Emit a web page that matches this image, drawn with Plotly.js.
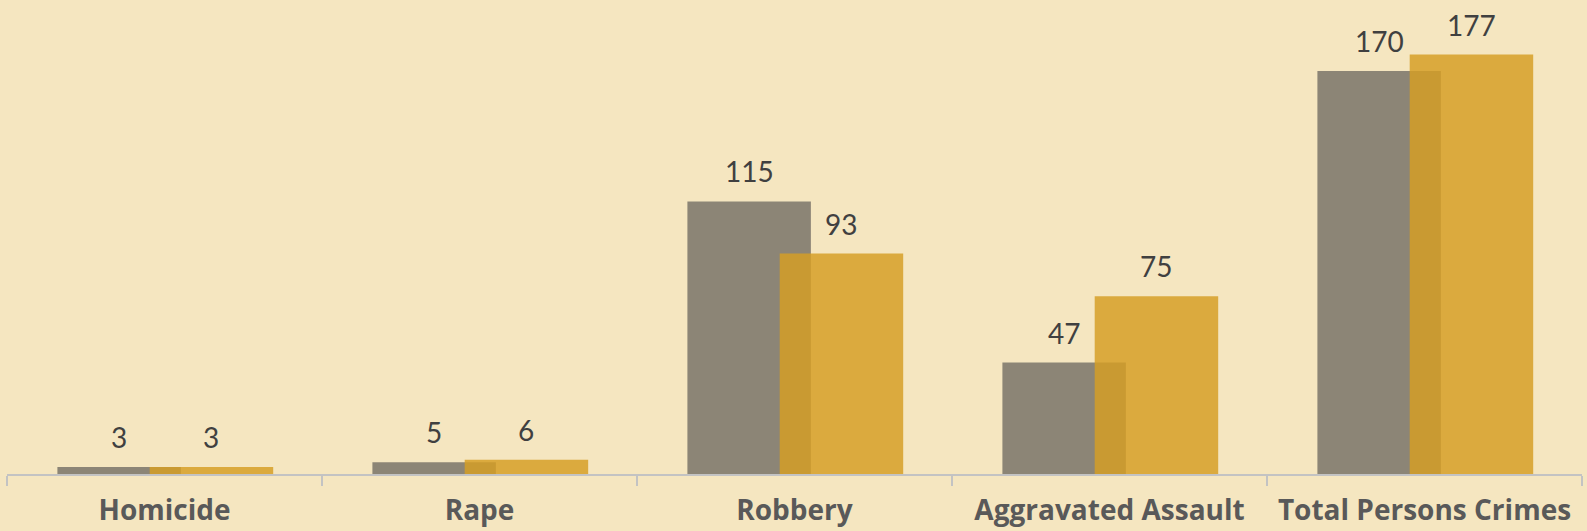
<!DOCTYPE html>
<html>
<head>
<meta charset="utf-8">
<script src="https://cdn.plot.ly/plotly-3.0.1.min.js"></script>
<style>
html,body{margin:0;padding:0;background:#F5E6C0;}
#chart{width:1587px;height:531px;}
</style>
</head>
<body>
<div id="chart"></div>
<script>
const categories = ["Homicide", "Rape", "Robbery", "Aggravated Assault", "Total Persons Crimes"];
const seriesA = [3, 5, 115, 47, 170];   // grey series
const seriesB = [3, 6, 93, 75, 177];    // gold series

const offA = -0.34, offB = -0.047, w = 0.392;

const traces = [
  {
    type: "bar", name: "Series A", x: categories, y: seriesA,
    offset: offA, width: w,
    marker: {color: "#8C8576"},
    hoverinfo: "y"
  },
  {
    type: "bar", name: "Series B", x: categories, y: seriesB,
    offset: offB, width: w,
    marker: {color: "rgba(213,159,37,0.84)"},
    hoverinfo: "y"
  }
];

const labelFont = {family: "Lato, 'Open Sans', sans-serif", size: 28, color: "#404040", weight: 400};
const annotations = [];
seriesA.forEach((v, i) => annotations.push({
  x: i + offA + w / 2, y: v, xref: "x", yref: "y", text: String(v),
  showarrow: false, yanchor: "bottom", yshift: 11, font: labelFont
}));
seriesB.forEach((v, i) => annotations.push({
  x: i + offB + w / 2, y: v, xref: "x", yref: "y", text: String(v),
  showarrow: false, yanchor: "bottom", yshift: 11, font: labelFont
}));

const layout = {
  width: 1587, height: 531,
  margin: {l: 7, r: 5, t: 0, b: 57},
  paper_bgcolor: "#F5E6C0",
  plot_bgcolor: "#F5E6C0",
  barmode: "overlay",
  showlegend: false,
  xaxis: {
    type: "category",
    range: [-0.5, 4.5],
    showgrid: false, zeroline: false,
    showline: true, linecolor: "#C3C3C3", linewidth: 2,
    ticks: "outside", tickson: "boundaries", ticklen: 10, tickwidth: 2, tickcolor: "#C3C3C3",
    ticklabelstandoff: 10,
    tickfont: {family: "'Open Sans', Lato, sans-serif", size: 28, color: "#595959", weight: "bold"},
    fixedrange: true
  },
  yaxis: {
    range: [0, 200],
    visible: false, showgrid: false, zeroline: false,
    fixedrange: true
  },
  annotations: annotations
};

Plotly.newPlot("chart", traces, layout, {displayModeBar: false, staticPlot: true});
</script>
</body>
</html>
